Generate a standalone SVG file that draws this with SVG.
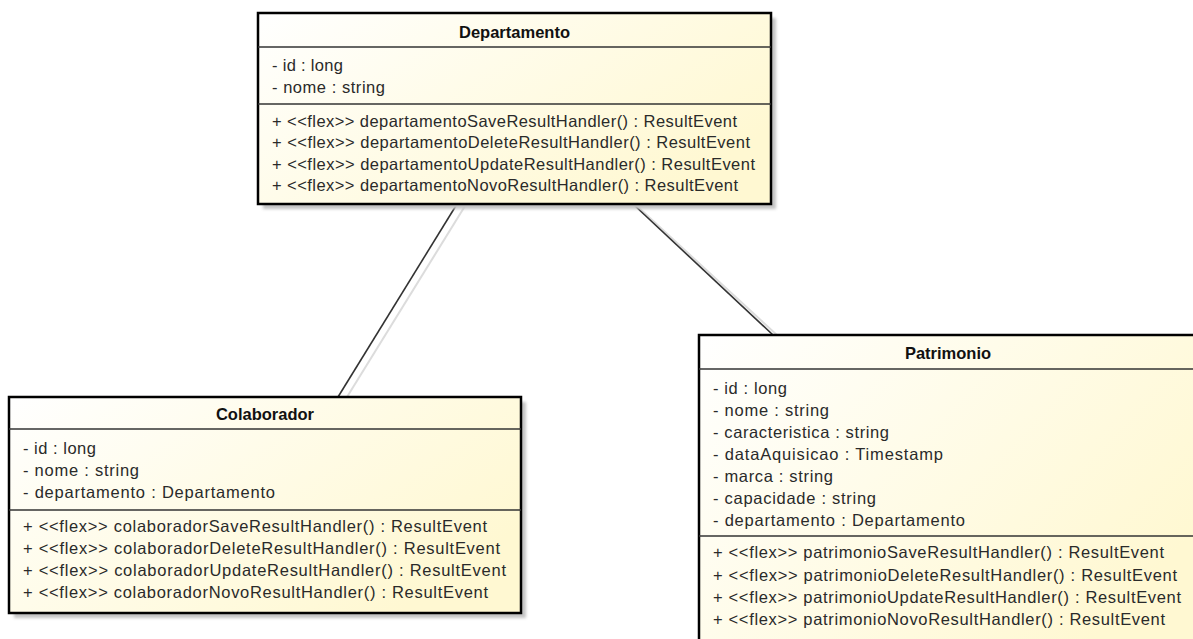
<svg xmlns="http://www.w3.org/2000/svg" width="1193" height="639" viewBox="0 0 1193 639">
<style>
.box{stroke:#000;stroke-width:2.5;fill:url(#g)}
.shadow{fill:#c4c4c4;filter:url(#blur)}
.sep{stroke:#333;stroke-width:1.5}
.t{font-family:"Liberation Sans",Arial,sans-serif;font-size:16.5px;fill:#2a2a2a}
.h{font-family:"Liberation Sans",Arial,sans-serif;font-size:16.5px;font-weight:bold;fill:#111;text-anchor:middle}
.conn{stroke:#333;stroke-width:1.6;fill:none}
.connsh{stroke:#dcdcdc;stroke-width:2;fill:none}
</style>
<defs>
<linearGradient id="g" x1="0" y1="0" x2="1" y2="0.6">
<stop offset="0" stop-color="#ffffff"/>
<stop offset="0.45" stop-color="#fffcea"/>
<stop offset="1" stop-color="#fff8d2"/>
</linearGradient>
<filter id="blur" x="-5%" y="-5%" width="110%" height="110%"><feGaussianBlur stdDeviation="1.5"/></filter>
</defs>
<rect width="1193" height="639" fill="#fff"/>
<g id="connectors">
<line class="connsh" x1="465" y1="206" x2="347" y2="397"/>
<line class="conn" x1="457" y1="204" x2="338" y2="397"/>
<line class="connsh" x1="638" y1="207" x2="778" y2="336"/>
<line class="conn" x1="633" y1="204" x2="773" y2="335"/>
</g>
<g id="departamento">
<rect class="shadow" x="263" y="18" width="513" height="191"/>
<rect class="box" x="258" y="13" width="513" height="191"/>
<line class="sep" x1="258" y1="47" x2="771" y2="47"/>
<line class="sep" x1="258" y1="104" x2="771" y2="104"/>
<text class="h" x="514.5" y="38">Departamento</text>
<text class="t" x="272" y="71" textLength="71" lengthAdjust="spacing">- id : long</text>
<text class="t" x="272" y="93" textLength="113" lengthAdjust="spacing">- nome : string</text>
<text class="t" x="272" y="127" textLength="465" lengthAdjust="spacing">+ &lt;&lt;flex&gt;&gt; departamentoSaveResultHandler() : ResultEvent</text>
<text class="t" x="272" y="148" textLength="478" lengthAdjust="spacing">+ &lt;&lt;flex&gt;&gt; departamentoDeleteResultHandler() : ResultEvent</text>
<text class="t" x="272" y="170" textLength="483" lengthAdjust="spacing">+ &lt;&lt;flex&gt;&gt; departamentoUpdateResultHandler() : ResultEvent</text>
<text class="t" x="272" y="191" textLength="466" lengthAdjust="spacing">+ &lt;&lt;flex&gt;&gt; departamentoNovoResultHandler() : ResultEvent</text>
</g>
<g id="colaborador">
<rect class="shadow" x="14" y="402" width="512" height="216"/>
<rect class="box" x="9" y="397" width="512" height="216"/>
<line class="sep" x1="9" y1="429" x2="521" y2="429"/>
<line class="sep" x1="9" y1="510" x2="521" y2="510"/>
<text class="h" x="265" y="420">Colaborador</text>
<text class="t" x="23" y="454" textLength="73" lengthAdjust="spacing">- id : long</text>
<text class="t" x="23" y="476" textLength="116" lengthAdjust="spacing">- nome : string</text>
<text class="t" x="23" y="498" textLength="252" lengthAdjust="spacing">- departamento : Departamento</text>
<text class="t" x="23" y="532" textLength="464" lengthAdjust="spacing">+ &lt;&lt;flex&gt;&gt; colaboradorSaveResultHandler() : ResultEvent</text>
<text class="t" x="23" y="554" textLength="477" lengthAdjust="spacing">+ &lt;&lt;flex&gt;&gt; colaboradorDeleteResultHandler() : ResultEvent</text>
<text class="t" x="23" y="576" textLength="483" lengthAdjust="spacing">+ &lt;&lt;flex&gt;&gt; colaboradorUpdateResultHandler() : ResultEvent</text>
<text class="t" x="23" y="598" textLength="465" lengthAdjust="spacing">+ &lt;&lt;flex&gt;&gt; colaboradorNovoResultHandler() : ResultEvent</text>
</g>
<g id="patrimonio">
<rect class="shadow" x="704" y="340" width="500" height="320"/>
<rect class="box" x="699" y="335" width="500" height="320"/>
<line class="sep" x1="699" y1="369" x2="1199" y2="369"/>
<line class="sep" x1="699" y1="536" x2="1199" y2="536"/>
<text class="h" x="948" y="359">Patrimonio</text>
<text class="t" x="713" y="394" textLength="74" lengthAdjust="spacing">- id : long</text>
<text class="t" x="713" y="416" textLength="116" lengthAdjust="spacing">- nome : string</text>
<text class="t" x="713" y="438" textLength="176" lengthAdjust="spacing">- caracteristica : string</text>
<text class="t" x="713" y="460" textLength="230" lengthAdjust="spacing">- dataAquisicao : Timestamp</text>
<text class="t" x="713" y="482" textLength="120" lengthAdjust="spacing">- marca : string</text>
<text class="t" x="713" y="504" textLength="163" lengthAdjust="spacing">- capacidade : string</text>
<text class="t" x="713" y="526" textLength="252" lengthAdjust="spacing">- departamento : Departamento</text>
<text class="t" x="713" y="558" textLength="451" lengthAdjust="spacing">+ &lt;&lt;flex&gt;&gt; patrimonioSaveResultHandler() : ResultEvent</text>
<text class="t" x="713" y="581" textLength="464" lengthAdjust="spacing">+ &lt;&lt;flex&gt;&gt; patrimonioDeleteResultHandler() : ResultEvent</text>
<text class="t" x="713" y="603" textLength="468" lengthAdjust="spacing">+ &lt;&lt;flex&gt;&gt; patrimonioUpdateResultHandler() : ResultEvent</text>
<text class="t" x="713" y="625" textLength="452" lengthAdjust="spacing">+ &lt;&lt;flex&gt;&gt; patrimonioNovoResultHandler() : ResultEvent</text>
</g>
</svg>
